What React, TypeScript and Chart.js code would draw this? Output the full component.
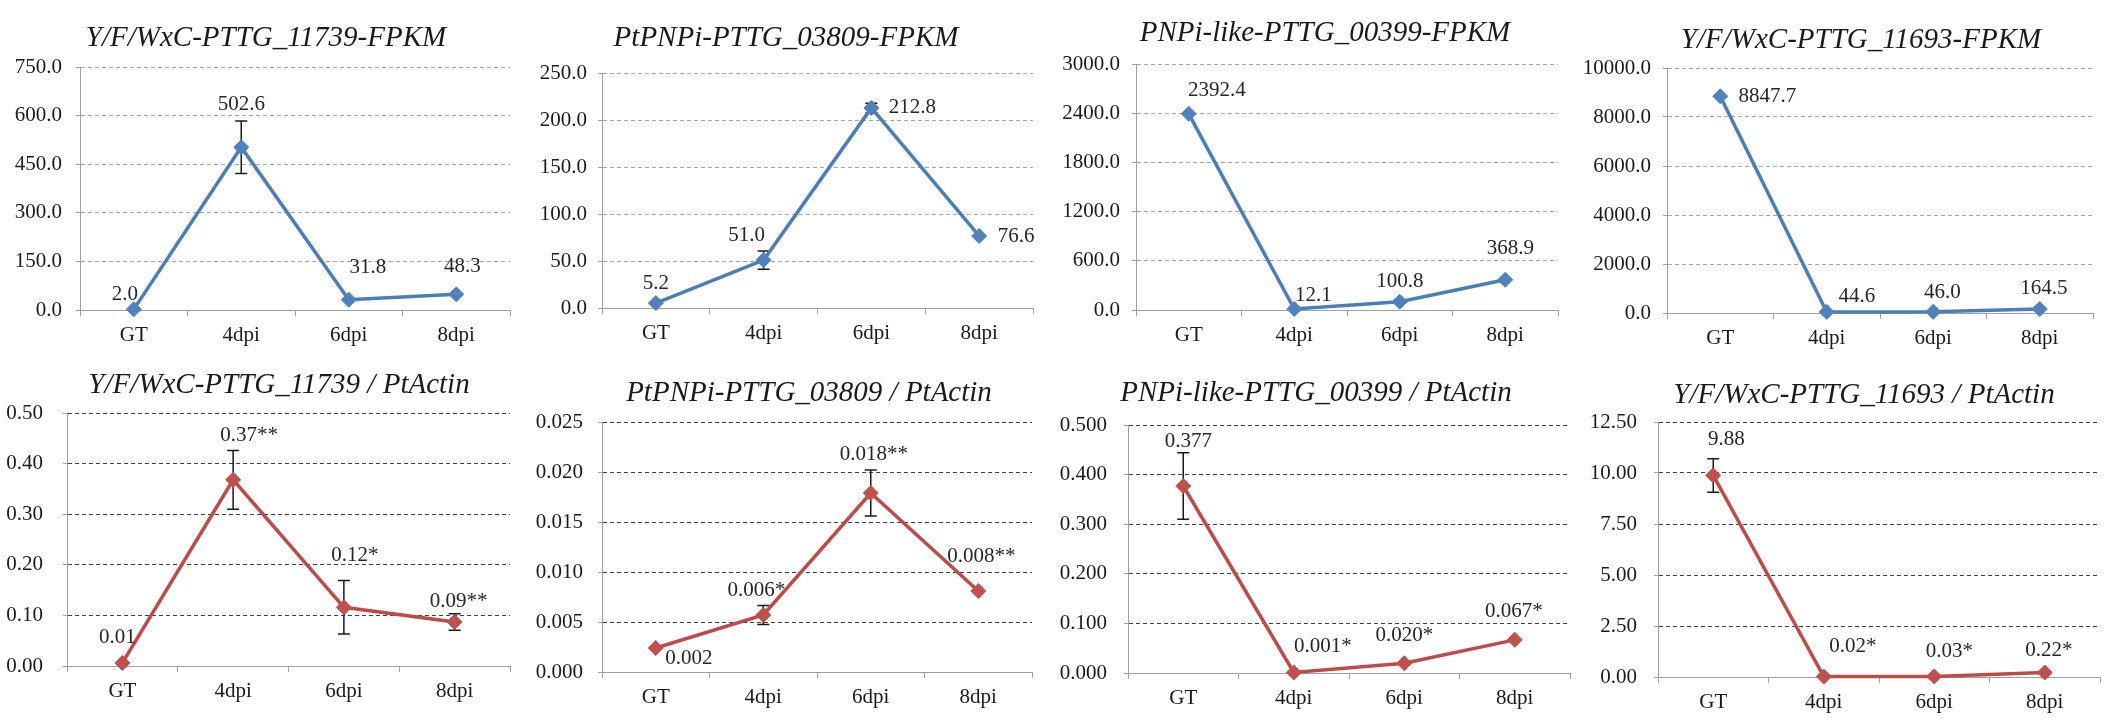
import { useEffect, useRef } from 'react';
import { Chart, registerables } from 'chart.js';

Chart.register(...registerables);

const SERIF = '"Liberation Serif", "Times New Roman", serif';

const CATEGORIES = ['GT', '4dpi', '6dpi', '8dpi'];

// RNA-seq FPKM (top row)
const fpkm11739 = [2.0, 502.6, 31.8, 48.3];
const fpkm11739Err = [0, 81, 0, 0];
const fpkm03809 = [5.2, 51.0, 212.8, 76.6];
const fpkm03809Err = [0, 9.7, 5, 0];
const fpkm00399 = [2392.4, 12.1, 100.8, 368.9];
const fpkm00399Err = [0, 0, 0, 0];
const fpkm11693 = [8847.7, 44.6, 46.0, 164.5];
const fpkm11693Err = [0, 0, 0, 0];
const noStars = ['', '', '', ''];

// qRT-PCR relative to PtActin (bottom row)
const rel11739 = [0.006, 0.368, 0.116, 0.087];
const rel11739Err = [0, 0.058, 0.053, 0.0165];
const rel11739Sig = ['', '**', '*', '**'];
const rel03809 = [0.0024, 0.0057, 0.0179, 0.0081];
const rel03809Err = [0, 0.00095, 0.0023, 0];
const rel03809Sig = ['', '*', '**', '**'];
const rel00399 = [0.377, 0.001, 0.0198, 0.0668];
const rel00399Err = [0.067, 0, 0, 0];
const rel00399Sig = ['', '*', '*', '*'];
const rel11693 = [9.88, 0.02, 0.03, 0.22];
const rel11693Err = [0.82, 0, 0, 0];
const rel11693Sig = ['', '*', '*', '*'];

const BLUE = { line: '#4A7EBB', marker: '#4F81BD', grid: '#A6A6A6' };
const RED = { line: '#BE4B48', marker: '#C0504D', grid: '#404040' };
const AXIS = '#A0A0A0';

// canvas box, plot rectangle and title centre, all in page pixels
type Box = {
    left: number; top: number; width: number; height: number;
    plot: [number, number, number, number];
    titleAt: [number, number];
    yPad: number;
};

type Panel = {
    title: string;
    values: number[];
    errors: number[];
    stars: string[];
    decimals: number;
    yMax: number;
    yStep: number;
    theme: typeof BLUE;
    labelOffsets: [number, number][];
    box: Box;
};

const PANELS: Panel[] = [
    {
        title: 'Y/F/WxC-PTTG_11739-FPKM', values: fpkm11739, errors: fpkm11739Err, stars: noStars,
        decimals: 1, yMax: 750, yStep: 150, theme: BLUE,
        labelOffsets: [[-9, -15], [0, -43], [19, -32], [6, -28]],
        box: { left: 0, top: 0, width: 530, height: 355, plot: [80, 67, 510, 310], titleAt: [266, 38], yPad: 14 },
    },
    {
        title: 'PtPNPi-PTTG_03809-FPKM', values: fpkm03809, errors: fpkm03809Err, stars: noStars,
        decimals: 1, yMax: 250, yStep: 50, theme: BLUE,
        labelOffsets: [[0, -20], [-17, -25], [41, 0], [37, 0]],
        box: { left: 530, top: 0, width: 523, height: 355, plot: [602, 73, 1033, 308], titleAt: [786, 38], yPad: 11 },
    },
    {
        title: 'PNPi-like-PTTG_00399-FPKM', values: fpkm00399, errors: fpkm00399Err, stars: noStars,
        decimals: 1, yMax: 3000, yStep: 600, theme: BLUE,
        labelOffsets: [[28, -23], [19, -14], [0, -20], [5, -31]],
        box: { left: 1052, top: 0, width: 526, height: 355, plot: [1136, 64, 1558, 310], titleAt: [1325, 33], yPad: 12 },
    },
    {
        title: 'Y/F/WxC-PTTG_11693-FPKM', values: fpkm11693, errors: fpkm11693Err, stars: noStars,
        decimals: 1, yMax: 10000, yStep: 2000, theme: BLUE,
        labelOffsets: [[47, 0], [30, -15], [9, -19], [4, -20]],
        box: { left: 1578, top: 0, width: 545, height: 355, plot: [1667, 68, 2093, 313], titleAt: [1861, 40], yPad: 12 },
    },
    {
        title: 'Y/F/WxC-PTTG_11739 / PtActin', values: rel11739, errors: rel11739Err, stars: rel11739Sig,
        decimals: 2, yMax: 0.5, yStep: 0.1, theme: RED,
        labelOffsets: [[-5, -25], [16, -44], [11, -52], [4, -20]],
        box: { left: 0, top: 355, width: 530, height: 368, plot: [67, 413, 510, 666], titleAt: [279, 385], yPad: 20 },
    },
    {
        title: 'PtPNPi-PTTG_03809 / PtActin', values: rel03809, errors: rel03809Err, stars: rel03809Sig,
        decimals: 3, yMax: 0.025, yStep: 0.005, theme: RED,
        labelOffsets: [[33, 10], [-7, -25], [3, -39], [3, -35]],
        box: { left: 530, top: 355, width: 522, height: 368, plot: [602, 422, 1032, 672], titleAt: [809, 393], yPad: 15 },
    },
    {
        title: 'PNPi-like-PTTG_00399 / PtActin', values: rel00399, errors: rel00399Err, stars: rel00399Sig,
        decimals: 3, yMax: 0.5, yStep: 0.1, theme: RED,
        labelOffsets: [[5, -45], [29, -26], [0, -28], [-1, -28]],
        box: { left: 1052, top: 355, width: 538, height: 368, plot: [1128, 425, 1570, 673], titleAt: [1316, 393], yPad: 17 },
    },
    {
        title: 'Y/F/WxC-PTTG_11693 / PtActin', values: rel11693, errors: rel11693Err, stars: rel11693Sig,
        decimals: 2, yMax: 12.5, yStep: 2.5, theme: RED,
        labelOffsets: [[13, -36], [29, -30], [15, -25], [4, -22]],
        box: { left: 1584, top: 355, width: 539, height: 368, plot: [1658, 422, 2100, 677], titleAt: [1864, 395], yPad: 17 },
    },
];

function PanelChart({ p }: { p: Panel }) {
    const canvasRef = useRef<HTMLCanvasElement>(null);

    useEffect(() => {
        if (!canvasRef.current) return;
        const b = p.box;
        const [pl, pt, pr, pb] = b.plot;
        const yW = pl - b.left;
        const xH = b.top + b.height - pb;
        const padTop = pt - b.top;
        const padRight = b.left + b.width - pr;

        const errorBars = {
            id: 'errorBars',
            beforeDatasetsDraw(chart: any) {
                const meta = chart.getDatasetMeta(0);
                const y = chart.scales.y;
                const ctx = chart.ctx;
                ctx.save();
                ctx.strokeStyle = '#1a1a1a';
                ctx.lineWidth = 1.5;
                p.errors.forEach((e, i) => {
                    if (!e) return;
                    const x = meta.data[i].x;
                    const hi = y.getPixelForValue(p.values[i] + e);
                    const lo = y.getPixelForValue(p.values[i] - e);
                    ctx.beginPath();
                    ctx.moveTo(x, hi);
                    ctx.lineTo(x, lo);
                    ctx.moveTo(x - 6, hi);
                    ctx.lineTo(x + 6, hi);
                    ctx.moveTo(x - 6, lo);
                    ctx.lineTo(x + 6, lo);
                    ctx.stroke();
                });
                ctx.restore();
            },
        };

        const valueLabels = {
            id: 'valueLabels',
            afterDatasetsDraw(chart: any) {
                const meta = chart.getDatasetMeta(0);
                const ctx = chart.ctx;
                ctx.save();
                ctx.font = `21px ${SERIF}`;
                ctx.fillStyle = '#262626';
                ctx.textAlign = 'center';
                ctx.textBaseline = 'middle';
                p.values.forEach((v, i) => {
                    const point = meta.data[i];
                    const [dx, dy] = p.labelOffsets[i];
                    ctx.fillText(v.toFixed(p.decimals) + p.stars[i], point.x + dx, point.y + dy);
                });
                ctx.restore();
            },
        };

        // title placed at its own centre, not the chart's
        const panelTitle = {
            id: 'panelTitle',
            afterDraw(chart: any) {
                const ctx = chart.ctx;
                ctx.save();
                ctx.font = `italic 29px ${SERIF}`;
                ctx.fillStyle = '#1a1a1a';
                ctx.textAlign = 'center';
                ctx.textBaseline = 'middle';
                ctx.fillText(p.title, b.titleAt[0] - b.left, b.titleAt[1] - b.top);
                ctx.restore();
            },
        };

        const chart = new Chart(canvasRef.current, {
            type: 'line',
            data: {
                labels: CATEGORIES,
                datasets: [
                    {
                        data: p.values,
                        borderColor: p.theme.line,
                        backgroundColor: p.theme.marker,
                        borderWidth: 3.5,
                        pointStyle: 'rectRot',
                        pointRadius: 7.5,
                        pointBackgroundColor: p.theme.marker,
                        pointBorderColor: p.theme.marker,
                        pointBorderWidth: 1,
                        tension: 0,
                        fill: false,
                        clip: false,
                    } as any,
                ],
            },
            options: {
                responsive: false,
                animation: false,
                layout: { padding: { left: 0, right: padRight, top: padTop, bottom: 0 } },
                plugins: {
                    legend: { display: false },
                    tooltip: { enabled: false },
                    title: { display: false },
                },
                scales: {
                    x: {
                        offset: true,
                        grid: {
                            display: true,
                            offset: true,
                            drawOnChartArea: false,
                            drawTicks: true,
                            tickLength: 6,
                            color: AXIS,
                            tickColor: AXIS,
                        },
                        border: { display: true, color: AXIS, width: 1 },
                        ticks: {
                            font: { family: SERIF, size: 21 },
                            color: '#1a1a1a',
                            padding: 7,
                            maxRotation: 0,
                            autoSkip: false,
                        },
                        afterFit: (s: any) => {
                            s.height = xH;
                        },
                    },
                    y: {
                        min: 0,
                        max: p.yMax,
                        grid: {
                            color: (c: any) => (c.tick && c.tick.value === 0 ? 'rgba(0,0,0,0)' : p.theme.grid),
                            tickColor: AXIS,
                            tickLength: 4,
                            lineWidth: 1,
                        },
                        border: { display: true, color: AXIS, width: 1, dash: [4, 3] },
                        ticks: {
                            stepSize: p.yStep,
                            font: { family: SERIF, size: 21 },
                            color: '#1a1a1a',
                            padding: b.yPad,
                            callback: (v: any) => Number(v).toFixed(p.decimals),
                        },
                        afterFit: (s: any) => {
                            s.width = yW;
                        },
                    },
                },
            },
            plugins: [errorBars, valueLabels, panelTitle],
        });

        return () => {
            chart.destroy();
        };
    }, [p]);

    const b = p.box;
    return (
        <canvas
            ref={canvasRef}
            width={b.width}
            height={b.height}
            style={{ position: 'absolute', left: b.left, top: b.top, width: b.width, height: b.height }}
        />
    );
}

export default function App() {
    return (
        <div
            style={{
                position: 'fixed',
                left: 0,
                top: 0,
                width: 2123,
                height: 723,
                overflow: 'hidden',
                background: '#ffffff',
            }}
        >
            {PANELS.map((p) => (
                <PanelChart key={p.title} p={p} />
            ))}
        </div>
    );
}
